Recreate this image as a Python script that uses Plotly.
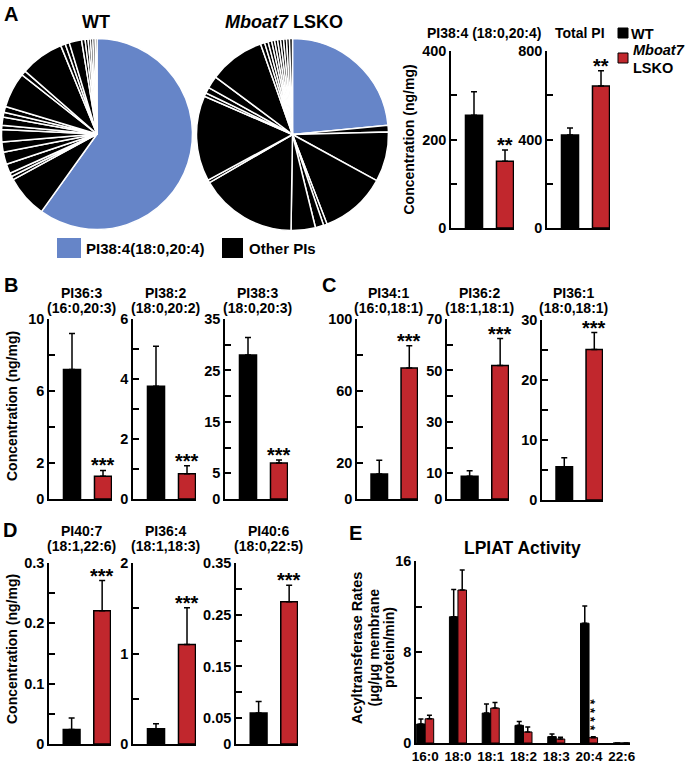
import plotly.graph_objects as go

W, H = 688, 764
FONT = "Liberation Sans, Arial, Helvetica, sans-serif"
BLUE = "#6685C8"
RED = "#C1272D"
BLACK = "#000000"

# ---------------- data ----------------
# Panel A pies: share of each PI species (% of total PI), clockwise from 12 o'clock
pie_wt_values = [60.0, 7.2, 0.6, 0.6, 1.6, 2.1, 1.7, 2.1, 0.7, 1.4, 0.8, 1.0, 6.0, 0.8,
                 7.4, 0.8, 0.7, 2.1, 0.6, 0.5, 0.4, 0.4, 0.4, 0.3]
pie_ko_values = [23.5, 1.1, 8.4, 11.2, 0.6, 1.4, 4.1, 16.4, 0.5, 14.4, 0.6, 1.0, 2.1, 9.4,
                 0.7, 0.6, 0.6, 0.5, 0.5, 0.5, 0.5, 0.5, 0.5, 0.5]
pie_titles = ["WT", "<i>Mboat7</i> LSKO"]
pie_legend = ["PI38:4(18:0,20:4)", "Other PIs"]

# Panel A bars
a_titles = [["PI38:4 (18:0,20:4)"], ["Total PI"]]
a_wt = [255, 420]
a_wt_sem = [53, 32]
a_ko = [151, 642]
a_ko_sem = [25, 69]
a_ymax = [400, 800]
a_ystep = [100, 200]
a_ylabels = [[0, 200, 400], [0, 400, 800]]
a_stars = ["**", "**"]

# Panel B
b_titles = [["PI36:3", "(16:0,20:3)"], ["PI38:2", "(18:0,20:2)"], ["PI38:3", "(18:0,20:3)"]]
b_wt = [7.2, 3.76, 28.0]
b_wt_sem = [2.0, 1.33, 3.4]
b_ko = [1.26, 0.84, 7.0]
b_ko_sem = [0.33, 0.27, 0.58]
b_ymax = [10, 6, 35]
b_ystep = [2, 1, 5]
b_ylabels = [[0, 2, 6, 10], [0, 2, 4, 6], [0, 5, 15, 25, 35]]
b_stars = ["***", "***", "***"]

# Panel C
c_titles = [["PI34:1", "(16:0,18:1)"], ["PI36:2", "(18:1,18:1)"], ["PI36:1", "(18:0,18:1)"]]
c_wt = [13.9, 8.8, 5.56]
c_wt_sem = [7.6, 2.2, 1.5]
c_ko = [72.8, 51.9, 25.1]
c_ko_sem = [12.4, 10.5, 2.8]
c_ymax = [100, 70, 30]
c_ystep = [20, 10, 5]
c_ylabels = [[0, 20, 60, 100], [0, 10, 30, 50, 70], [0, 10, 20, 30]]
c_stars = ["***", "***", "***"]

# Panel D
d_titles = [["PI40:7", "(18:1,22:6)"], ["PI36:4", "(18:1,18:3)"], ["PI40:6", "(18:0,22:5)"]]
d_wt = [0.024, 0.169, 0.060]
d_wt_sem = [0.019, 0.055, 0.022]
d_ko = [0.221, 1.10, 0.275]
d_ko_sem = [0.050, 0.405, 0.032]
d_ymax = [0.3, 2, 0.35]
d_ystep = [0.05, 0.5, 0.05]
d_ylabels = [[0, 0.1, 0.2, 0.3], [0, 1, 2], [0, 0.05, 0.15, 0.25, 0.35]]
d_stars = ["***", "***", "***"]

# Panel E: LPIAT activity
e_cats = ["16:0", "18:0", "18:1", "18:2", "18:3", "20:4", "22:6"]
e_wt = [1.67, 11.1, 2.63, 1.55, 0.56, 10.53, 0]
e_wt_sem = [0.43, 2.4, 0.79, 0.35, 0.23, 1.52, 0]
e_ko = [2.13, 13.45, 3.07, 0.97, 0.35, 0.47, 0]
e_ko_sem = [0.30, 1.75, 0.50, 0.43, 0.15, 0.09, 0]
e_ymax = 16
e_ystep = 4
e_ylabels = [0, 8, 16]
e_star_cat = 5
e_stars = "****"

# ---------------- layout helpers ----------------
def fx(p):
    return p / W


def fy(p):
    return 1 - p / H


def bold(size, color="black"):
    return dict(family=FONT, size=size, color=color, weight="bold")


def fmt(v):
    s = ("%.4f" % v).rstrip("0").rstrip(".")
    return s if s else "0"


fig = go.Figure()
layout = {}
annotations = []
shapes = []

BW = 0.55
XR = [-0.742, 1.29]
LW = 1.5
TICKF = 14.5


def y_ticks(ymax, ystep, labels):
    n = int(round(ymax / ystep))
    vals = [round(k * ystep, 6) for k in range(n + 1)]
    text = [fmt(v) if any(abs(v - l) < 1e-9 for l in labels) else "" for v in vals]
    return vals, text


def ax_name(kind, n):
    return kind + ("" if n == 1 else str(n))


def add_small(n, box, title_lines, title_y, wt, wt_sem, ko, ko_sem, ymax, ystep, ylabels, star):
    left, right, top, bottom = box
    layout[ax_name("xaxis", n)] = dict(
        domain=[fx(left), fx(right)], range=XR, anchor="y%d" % n,
        showline=True, linecolor="black", linewidth=LW, ticks="",
        showticklabels=False, showgrid=False, zeroline=False, fixedrange=True,
        automargin=False)
    vals, text = y_ticks(ymax, ystep, ylabels)
    layout[ax_name("yaxis", n)] = dict(
        domain=[fy(bottom), fy(top)], range=[0, ymax], anchor="x%d" % n,
        showline=True, linecolor="black", linewidth=LW, ticks="inside",
        ticklen=6, tickwidth=LW, tickcolor="black", tickvals=vals, ticktext=text,
        tickfont=bold(TICKF), showgrid=False, zeroline=False, fixedrange=True,
        automargin=False)
    fig.add_trace(go.Bar(
        x=[0, 1], y=[wt, ko], width=[BW, BW], offset=-BW / 2,
        marker=dict(color=[BLACK, RED], line=dict(color="black", width=LW)),
        error_y=dict(type="data", symmetric=False, array=[wt_sem, ko_sem],
                     arrayminus=[0, 0], color="black", thickness=LW, width=3),
        xaxis="x%d" % n, yaxis="y%d" % n, showlegend=False, hoverinfo="skip"))
    cx = (left + right) / 2 + 1
    for line, yy in zip(title_lines, title_y):
        annotations.append(dict(text=line, x=fx(cx), y=fy(yy), xref="paper", yref="paper",
                                xanchor="center", yanchor="middle", showarrow=False,
                                font=bold(14)))
    annotations.append(dict(text=star, x=1, y=ko + ko_sem, xref="x%d" % n, yref="y%d" % n,
                            xanchor="center", yanchor="middle", yshift=5, showarrow=False,
                            font=bold(20)))


n = 1
a_boxes = [(451, 514, 51, 228), (547, 610, 51, 228)]
for i in range(2):
    add_small(n, a_boxes[i], a_titles[i], [33], a_wt[i], a_wt_sem[i], a_ko[i], a_ko_sem[i],
              a_ymax[i], a_ystep[i], a_ylabels[i], a_stars[i])
    n += 1
b_boxes = [(49, 112, 319, 499), (133, 196, 319, 499), (225, 288, 319, 499)]
for i in range(3):
    add_small(n, b_boxes[i], b_titles[i], [293, 308], b_wt[i], b_wt_sem[i], b_ko[i], b_ko_sem[i],
              b_ymax[i], b_ystep[i], b_ylabels[i], b_stars[i])
    n += 1
c_boxes = [(357, 418, 319, 499), (447, 509, 319, 499), (542, 603, 320, 500)]
for i in range(3):
    add_small(n, c_boxes[i], c_titles[i], [293, 308], c_wt[i], c_wt_sem[i], c_ko[i], c_ko_sem[i],
              c_ymax[i], c_ystep[i], c_ylabels[i], c_stars[i])
    n += 1
d_boxes = [(49, 111, 563, 744), (133, 196, 563, 744), (236, 298, 563, 744)]
for i in range(3):
    add_small(n, d_boxes[i], d_titles[i], [531, 546], d_wt[i], d_wt_sem[i], d_ko[i], d_ko_sem[i],
              d_ymax[i], d_ystep[i], d_ylabels[i], d_stars[i])
    n += 1

# Panel E
ne = n
BWE = 0.26
layout[ax_name("xaxis", ne)] = dict(
    domain=[fx(416), fx(630)], range=[-0.28, 6.25], anchor="y%d" % ne,
    showline=True, linecolor="black", linewidth=LW, ticks="",
    tickvals=list(range(len(e_cats))), ticktext=e_cats, tickfont=bold(13.5),
    showgrid=False, zeroline=False, fixedrange=True, automargin=False)
vals, text = y_ticks(e_ymax, e_ystep, e_ylabels)
layout[ax_name("yaxis", ne)] = dict(
    domain=[fy(743), fy(561)], range=[0, e_ymax], anchor="x%d" % ne,
    showline=True, linecolor="black", linewidth=LW, ticks="inside",
    ticklen=6, tickwidth=LW, tickcolor="black", tickvals=vals, ticktext=text,
    tickfont=bold(TICKF), showgrid=False, zeroline=False, fixedrange=True, automargin=False)
xs = list(range(len(e_cats)))
fig.add_trace(go.Bar(
    x=xs, y=e_wt, width=BWE, offset=-BWE,
    marker=dict(color=BLACK, line=dict(color="black", width=1)),
    error_y=dict(type="data", symmetric=False, array=e_wt_sem, arrayminus=[0] * len(xs),
                 color="black", thickness=LW, width=2.5),
    xaxis="x%d" % ne, yaxis="y%d" % ne, showlegend=False, hoverinfo="skip"))
fig.add_trace(go.Bar(
    x=xs, y=e_ko, width=BWE, offset=0,
    marker=dict(color=RED, line=dict(color="black", width=1)),
    error_y=dict(type="data", symmetric=False, array=e_ko_sem, arrayminus=[0] * len(xs),
                 color="black", thickness=LW, width=2.5),
    xaxis="x%d" % ne, yaxis="y%d" % ne, showlegend=False, hoverinfo="skip"))
# vertical stack of asterisks (text rotated so the stars run upward)
annotations.append(dict(text=" ".join(e_stars), x=e_star_cat + BWE / 2,
                        y=e_ko[e_star_cat] + e_ko_sem[e_star_cat],
                        xref="x%d" % ne, yref="y%d" % ne, xanchor="center",
                        yanchor="middle", yshift=21, xshift=-3, textangle=90,
                        showarrow=False, font=bold(13)))
annotations.append(dict(text="LPIAT Activity", x=fx(522), y=fy(548), xref="paper", yref="paper",
                        showarrow=False, xanchor="center", yanchor="middle", font=bold(17.5)))
for txt, xp, fs in zip(["Acyltransferase Rates", "(μg/μg membrane", "protein/min)"],
                       [357, 373.5, 389], [14.5, 14, 14]):
    annotations.append(dict(text=txt, x=fx(xp), y=fy(648), xref="paper", yref="paper",
                            textangle=-90, showarrow=False, xanchor="center",
                            yanchor="middle", font=bold(fs)))

# Pies
fig.add_trace(go.Pie(
    values=pie_wt_values,
    labels=[pie_legend[0]] + ["WT other %d" % i for i in range(1, len(pie_wt_values))],
    sort=False, direction="clockwise", rotation=0, textinfo="none", hoverinfo="skip",
    marker=dict(colors=[BLUE] + [BLACK] * (len(pie_wt_values) - 1),
                line=dict(color="white", width=1.5)),
    domain=dict(x=[fx(1.5), fx(192.5)], y=[fy(229.5), fy(38.5)]), showlegend=False))
fig.add_trace(go.Pie(
    values=pie_ko_values,
    labels=[pie_legend[0]] + ["KO other %d" % i for i in range(1, len(pie_ko_values))],
    sort=False, direction="clockwise", rotation=0, textinfo="none", hoverinfo="skip",
    marker=dict(colors=[BLUE] + [BLACK] * (len(pie_ko_values) - 1),
                line=dict(color="white", width=1.5)),
    domain=dict(x=[fx(196.5), fx(388.5)], y=[fy(230.5), fy(38.5)]), showlegend=False))

for txt, xp in zip(pie_titles, [96, 284]):
    annotations.append(dict(text=txt, x=fx(xp), y=fy(21.5), xref="paper", yref="paper",
                            showarrow=False, xanchor="center", yanchor="middle", font=bold(18)))

# pie legend
shapes.append(dict(type="rect", xref="paper", yref="paper", x0=fx(57), x1=fx(81),
                   y0=fy(258), y1=fy(238), fillcolor=BLUE, line=dict(width=0)))
annotations.append(dict(text=pie_legend[0], x=fx(84), y=fy(248), xref="paper", yref="paper",
                        showarrow=False, xanchor="left", yanchor="middle", font=bold(15)))
shapes.append(dict(type="rect", xref="paper", yref="paper", x0=fx(222), x1=fx(243),
                   y0=fy(258), y1=fy(238), fillcolor=BLACK, line=dict(width=0)))
annotations.append(dict(text=pie_legend[1], x=fx(247), y=fy(248), xref="paper", yref="paper",
                        showarrow=False, xanchor="left", yanchor="middle", font=bold(15)))

# bar legend
shapes.append(dict(type="rect", xref="paper", yref="paper", x0=fx(618), x1=fx(628),
                   y0=fy(38), y1=fy(28), fillcolor=BLACK, line=dict(color="black", width=1)))
annotations.append(dict(text="WT", x=fx(629), y=fy(33.5), xref="paper", yref="paper",
                        showarrow=False, xanchor="left", yanchor="middle", font=bold(14.5)))
shapes.append(dict(type="rect", xref="paper", yref="paper", x0=fx(618), x1=fx(628),
                   y0=fy(63), y1=fy(53), fillcolor=RED, line=dict(color="black", width=1)))
annotations.append(dict(text="<i>Mboat7</i>", x=fx(631), y=fy(50), xref="paper", yref="paper",
                        showarrow=False, xanchor="left", yanchor="middle", font=bold(14.5)))
annotations.append(dict(text="LSKO", x=fx(631), y=fy(68), xref="paper", yref="paper",
                        showarrow=False, xanchor="left", yanchor="middle", font=bold(14.5)))

# y-axis titles
for xp, yp in [(408.5, 140), (12, 406), (12, 649)]:
    annotations.append(dict(text="Concentration (ng/mg)", x=fx(xp), y=fy(yp), xref="paper",
                            yref="paper", textangle=-90, showarrow=False, xanchor="center",
                            yanchor="middle", font=bold(14)))

# panel letters
for txt, xp, yp in [("A", 2, 14), ("B", 2, 285), ("C", 320, 285), ("D", 1, 530), ("E", 347, 533)]:
    annotations.append(dict(text=txt, x=fx(xp), y=fy(yp), xref="paper", yref="paper",
                            showarrow=False, xanchor="left", yanchor="middle", font=bold(20)))

fig.update_layout(
    width=W, height=H, margin=dict(l=0, r=0, t=0, b=0, pad=0, autoexpand=False),
    paper_bgcolor="white", plot_bgcolor="white", barmode="overlay",
    showlegend=False, annotations=annotations, shapes=shapes,
    font=dict(family=FONT, color="black"), **layout)

fig.write_html("out.html", config={"displayModeBar": False},
               post_script="document.body.style.margin='0px';")
